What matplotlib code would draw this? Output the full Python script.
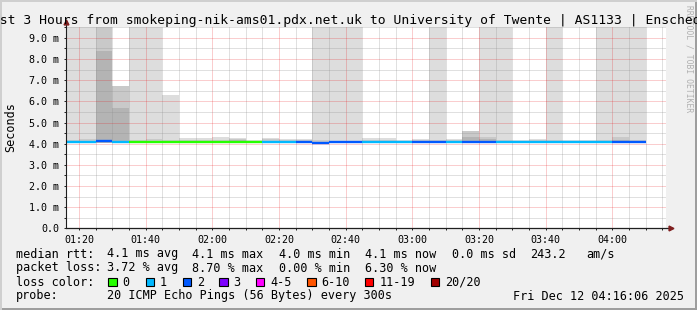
import matplotlib
matplotlib.use("Agg")
import matplotlib.pyplot as plt
from matplotlib.patches import Rectangle

# 5 minute slots (start time of each slot)
slots = ["01:15", "01:20", "01:25", "01:30", "01:35", "01:40", "01:45", "01:50", "01:55",
         "02:00", "02:05", "02:10", "02:15", "02:20", "02:25", "02:30", "02:35", "02:40",
         "02:45", "02:50", "02:55", "03:00", "03:05", "03:10", "03:15", "03:20", "03:25",
         "03:30", "03:35", "03:40", "03:45", "03:50", "03:55", "04:00", "04:05"]

# median rtt (ms) and lost pings out of 20 per slot
median = [4.07, 4.08, 4.13, 4.08, 4.06, 4.06, 4.06, 4.06, 4.06, 4.06, 4.06, 4.06,
          4.07, 4.07, 4.07, 4.05, 4.06, 4.07, 4.07, 4.07, 4.07, 4.06, 4.06, 4.07,
          4.08, 4.08, 4.07, 4.07, 4.07, 4.07, 4.07, 4.07, 4.07, 4.08, 4.08]
lost = [1, 1, 2, 1, 0, 0, 0, 0, 0, 0, 0, 0, 1, 1, 2, 2, 2, 2, 1, 1, 1, 2, 2, 1,
        2, 2, 1, 1, 1, 1, 1, 1, 1, 2, 2]

# smoke: bottom and tops of the three grey layers (ms)
smoke_min = [4.02] * 35
smoke_max = [12.0, 12.0, 12.0, 6.72, 12.0, 12.0, 6.29, 4.28, 4.25, 4.33, 4.28, 4.17,
             4.28, 4.22, 4.20, 12.0, 12.0, 12.0, 4.28, 4.28, 4.17, 4.22, 12.0, 4.20,
             4.59, 12.0, 12.0, 4.17, 4.22, 12.0, 4.17, 4.17, 12.0, 12.0, 12.0]
smoke_mid = [4.15, 4.20, 12.0, 6.72, 4.15, 4.20, 4.15, 4.15, 4.15, 4.15, 4.22, 4.12,
             4.20, 4.15, 4.15, 4.15, 4.12, 4.12, 4.15, 4.15, 4.12, 4.15, 4.15, 4.15,
             4.59, 4.33, 4.15, 4.12, 4.15, 4.15, 4.12, 4.12, 4.15, 4.30, 4.15]
smoke_core = [4.10, 4.12, 8.40, 5.68, 4.10, 4.12, 4.10, 4.10, 4.10, 4.10, 4.15, 4.10,
              4.12, 4.10, 4.10, 4.10, 4.10, 4.10, 4.10, 4.10, 4.10, 4.10, 4.10, 4.10,
              4.33, 4.20, 4.10, 4.10, 4.10, 4.10, 4.10, 4.10, 4.10, 4.15, 4.10]

loss_labels = ["0", "1", "2", "3", "4-5", "6-10", "11-19", "20/20"]
loss_colors = ["#26ff00", "#00b8ff", "#0059ff", "#7e00ff", "#ff00ff", "#ff5500", "#ff0000", "#a10000"]

xtick_labels = ["01:20", "01:40", "02:00", "02:20", "02:40", "03:00", "03:20", "03:40", "04:00"]
yticks = [0, 1, 2, 3, 4, 5, 6, 7, 8, 9]
ytick_labels = ["0.0", "1.0 m", "2.0 m", "3.0 m", "4.0 m", "5.0 m", "6.0 m", "7.0 m", "8.0 m", "9.0 m"]

W, H = 697, 310
MONO = "DejaVu Sans Mono"


def to_min(s):
    h, m = s.split(":")
    return int(h) * 60 + int(m)


def loss_color(n):
    if n <= 3:
        return loss_colors[n]
    if n <= 5:
        return loss_colors[4]
    if n <= 10:
        return loss_colors[5]
    if n < 20:
        return loss_colors[6]
    return loss_colors[7]


fig = plt.figure(figsize=(W / 100, H / 100), dpi=100, facecolor="#f0f0f0")

# 3d-ish frame
fig.add_artist(Rectangle((0, 0), 1, 2 / H, transform=fig.transFigure, color="#9e9e9e", lw=0))
fig.add_artist(Rectangle((1 - 2 / W, 0), 2 / W, 1, transform=fig.transFigure, color="#9e9e9e", lw=0))
fig.add_artist(Rectangle((0, 0), 2 / W, 1, transform=fig.transFigure, color="#cfcfcf", lw=0))
fig.add_artist(Rectangle((0, 1 - 2 / H), 1, 2 / H, transform=fig.transFigure, color="#cfcfcf", lw=0))

ax = fig.add_axes([66 / W, (H - 228.3) / H, 600 / W, 201 / H])
ax.set_facecolor("white")

x = [to_min(s) for s in slots]
bot = smoke_min
ax.bar(x, [t - b for t, b in zip(smoke_max, bot)], bottom=bot, width=5, align="edge",
       color="#dddddd", lw=0, zorder=1)
ax.bar(x, [t - b for t, b in zip(smoke_mid, bot)], bottom=bot, width=5, align="edge",
       color="#c9c9c9", lw=0, zorder=1.1)
ax.bar(x, [t - b for t, b in zip(smoke_core, bot)], bottom=bot, width=5, align="edge",
       color="#b4b4b4", lw=0, zorder=1.2)

for xi, m, n in zip(x, median, lost):
    ax.hlines(m, xi, xi + 5, color=loss_color(n), lw=1.7, zorder=3)

ax.set_xlim(to_min("01:16") + 0.1, to_min("04:16") + 0.1)
ax.set_ylim(0, 9.5)

ax.set_xticks([to_min(s) for s in xtick_labels])
ax.set_xticklabels(xtick_labels)
ax.set_xticks(range(to_min("01:20"), to_min("04:16"), 5), minor=True)
ax.set_yticks(yticks)
ax.set_yticklabels(ytick_labels)
ax.set_yticks([v + 0.5 for v in yticks], minor=True)

ax.set_axisbelow(False)
ax.grid(which="minor", color="#8f8f8f", alpha=0.55, lw=0.72, linestyle=(0, (1, 1)))
ax.grid(which="major", color="#e8050a", alpha=0.4, lw=0.72, linestyle=(0, (1, 1)))

ax.tick_params(which="both", length=1.5, width=0.7, color="#1f1f1f", pad=3.5,
               labelsize=7.2, labelcolor="black")
for lab in ax.get_xticklabels() + ax.get_yticklabels():
    lab.set_family(MONO)

for side in ["top", "right", "left", "bottom"]:
    ax.spines[side].set_visible(False)

# axes with arrows
ax.plot([0, 0], [0, 1.02], transform=ax.transAxes, color="#1f1f1f", lw=0.8, clip_on=False, zorder=4)
ax.plot([0, 1.0067], [0, 0], transform=ax.transAxes, color="#1f1f1f", lw=0.9, clip_on=False, zorder=4)
ax.plot([0], [1.025], marker="^", ms=3.5, color="#7f1f1f", transform=ax.transAxes, clip_on=False, zorder=5)
ax.plot([1.0075], [0], marker=">", ms=3.5, color="#7f1f1f", transform=ax.transAxes, clip_on=False, zorder=5)


def ftext(px, py, s, **kw):
    kw.setdefault("family", MONO)
    kw.setdefault("fontsize", 8.5)
    kw.setdefault("va", "center")
    fig.text(px / W, 1 - py / H, s, **kw)


ftext(689, 5, "RRDTOOL / TOBI OETIKER", rotation=270, ha="center", va="top", fontsize=5.8, color="#b0b0b0")
ftext(-16.3, 24.3, "Last 3 Hours from smokeping-nik-ams01.pdx.net.uk to University of Twente | AS1133 | Enschede, Netherlands",
      fontsize=9.4, va="baseline")
ftext(11, 127, "Seconds", rotation=90, ha="center")

row1 = [(16, "median rtt:"), (107, "4.1 ms avg"), (192.5, "4.1 ms max"), (279, "4.0 ms min"),
        (365, "4.1 ms now"), (451.5, "0.0 ms sd"), (530.5, "243.2"), (586, "am/s")]
row2 = [(16, "packet loss:"), (107, "3.72 % avg"), (192.5, "8.70 % max"), (279, "0.00 % min"),
        (365, "6.30 % now")]
for px, s in row1:
    ftext(px, 254, s)
for px, s in row2:
    ftext(px, 268, s)

ftext(16, 282, "loss color:")
box_x = [108.3, 145.7, 182.7, 219.3, 256, 307.3, 365, 430.7]
for bx, lab, col in zip(box_x, loss_labels, loss_colors):
    fig.add_artist(Rectangle((bx / W, 1 - 286.3 / H), 8.3 / W, 8.3 / H, transform=fig.transFigure,
                             facecolor=col, edgecolor="black", lw=0.8))
    ftext(bx + 14.3, 282, lab)

ftext(16, 296, "probe:")
ftext(107, 296, "20 ICMP Echo Pings (56 Bytes) every 300s")
ftext(513, 296, "Fri Dec 12 04:16:06 2025")

fig.savefig("out.png", dpi=100, facecolor=fig.get_facecolor())
